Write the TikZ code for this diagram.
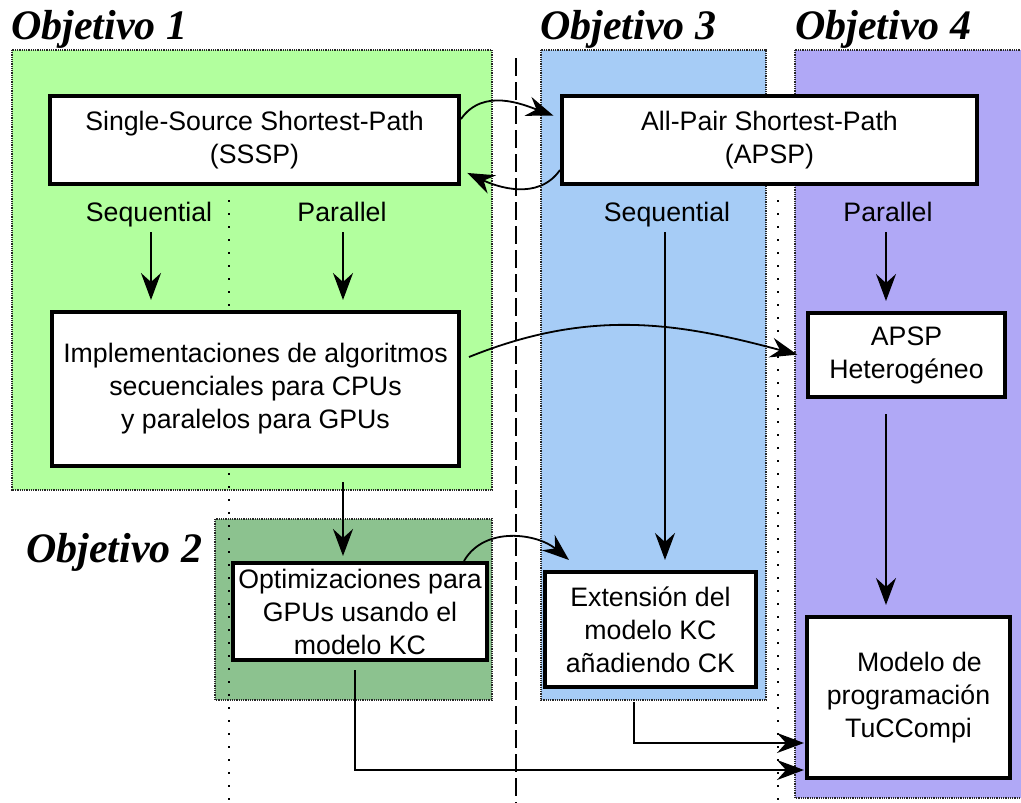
\documentclass[tikz,border=0pt]{standalone}
\usepackage{fontspec}
\setsansfont{Liberation Sans}
\newfontfamily\titlefont{Liberation Serif}
\usetikzlibrary{arrows.meta,calc}

\definecolor{objA}{RGB}{178,255,158}
\definecolor{objB}{RGB}{140,194,143}
\definecolor{objC}{RGB}{166,204,246}
\definecolor{objD}{RGB}{176,168,246}

\tikzset{
  region/.style={draw=black!85, line width=2pt, dash pattern=on 1pt off 0.8pt},
  stepbox/.style={draw=black, fill=white, line width=4pt, align=center,
    font=\sffamily\fontsize{26.7}{33}\selectfont, inner sep=2pt},
  lbl/.style={font=\sffamily\fontsize{26.7}{33}\selectfont, text height=19pt,
    text depth=5pt, inner sep=3pt},
  objtitle/.style={font=\titlefont\bfseries\itshape\fontsize{42}{44}\selectfont,
    anchor=base west, inner sep=0pt},
  arr/.style={-{Stealth[length=27pt,width=20pt,inset=9pt]}, line width=1.8pt},
  sep/.style={line width=1.8pt, dash pattern=on 2pt off 11pt},
  mainsep/.style={line width=2.4pt, dash pattern=on 18pt off 6pt},
}

\begin{document}
\begin{tikzpicture}[x=1pt, y=-1pt]
\useasboundingbox (0,0) rectangle (1021,803);
\clip (0,0) rectangle (1021,803);

% coloured areas of the four objectives
\fill[objA] (12,50) rectangle (492,490);
\draw[region] (12,50) rectangle (492,490);
\fill[objC] (541,50) rectangle (766,700);
\draw[region] (541,50) rectangle (766,700);
\fill[objD] (795,50) rectangle (1030,798);
\draw[region] (795,50) rectangle (1030,798);
\fill[objB] (215,519) rectangle (492,700);
\draw[region] (215,519) rectangle (492,700);

% objective titles
\node[objtitle] (t1) at (11,39) {Objetivo 1};
\node[objtitle] (t2) at (26,562) {Objetivo 2};
\node[objtitle] (t3) at (540,39) {Objetivo 3};
\node[objtitle] (t4) at (795,39) {Objetivo 4};

% separators
\coordinate (sepA1) at (229,200);
\coordinate (sepA2) at (229,803);
\coordinate (sepB1) at (516,58);
\coordinate (sepB2) at (516,803);
\coordinate (sepC1) at (778,200);
\coordinate (sepC2) at (778,803);
\draw[sep] (sepA1) -- (sepA2);
\draw[sep] (sepC1) -- (sepC2);
\draw[mainsep] (sepB1) -- (sepB2);

% boxes
\node[stepbox, minimum width=409pt, minimum height=88pt] (sssp) at (254.5,140)
  {Single-Source Shortest-Path\\(SSSP)};
\node[stepbox, minimum width=415pt, minimum height=88pt] (apsp) at (769.5,140)
  {All-Pair Shortest-Path\\(APSP)};
\node[stepbox, minimum width=407pt, minimum height=154pt] (impl) at (255.5,389)
  {Implementaciones de algoritmos\\secuenciales para CPUs\\y paralelos para GPUs};
\node[stepbox, minimum width=197pt, minimum height=84pt] (het) at (906.5,355)
  {APSP\\Heterogéneo};
\node[stepbox, minimum width=254pt, minimum height=97pt, inner sep=0pt] (opt) at (360,611.5)
  {Optimizaciones para\\GPUs usando el\\modelo KC};
\node[stepbox, minimum width=211pt, minimum height=115pt] (ext) at (650.5,629.5)
  {Extensión del\\modelo KC\\añadiendo CK};
\node[stepbox, minimum width=203pt, minimum height=161pt] (mod) at (908.5,697.5)
  {\hspace*{22pt}Modelo de\\programación\\TuCCompi};

% column labels
\node[lbl] (seqA) at (149,214) {Sequential};
\node[lbl] (parA) at (342,214) {Parallel};
\node[lbl] (seqC) at (667,214) {Sequential};
\node[lbl] (parD) at (888,214) {Parallel};

% vertical flows
\draw[arr, shorten <=3pt, shorten >=10pt] ([xshift=2pt]seqA.south) -- ([xshift=2pt]seqA.south |- impl.north);
\draw[arr, shorten <=3pt, shorten >=10pt] ([xshift=1pt]parA.south) -- ([xshift=1pt]parA.south |- impl.north);
\draw[arr, shorten <=3pt, shorten >=10pt] ([xshift=-2pt]seqC.south) -- ([xshift=-2pt]seqC.south |- ext.north);
\draw[arr, shorten <=3pt, shorten >=10pt] ([xshift=-2pt]parD.south) -- ([xshift=-2pt]parD.south |- het.north);
\draw[arr, shorten <=14pt, shorten >=5pt] (impl.south -| parA.south) ++(1,0) coordinate (implout) -- (implout |- opt.north);
\draw[arr, shorten <=15pt, shorten >=10pt] ([xshift=-2pt]het.south -| parD.south) -- ([xshift=-2pt]mod.north -| parD.south);

% curved links
\draw[arr, shorten >=7pt] ([yshift=21pt]sssp.east) to[out=55, in=160] ([yshift=22pt]apsp.west);
\draw[arr, shorten >=7pt] ([yshift=-30pt]apsp.west) to[out=-125, in=-25] ([yshift=-30pt]sssp.east);
\draw[arr, shorten >=9pt] ([xshift=8pt,yshift=32pt]impl.east) to[out=22, in=165] ([yshift=-2pt]het.west);
\draw[arr] ([xshift=-25pt]opt.north east) to[out=60, in=140] ([xshift=26pt,yshift=10pt]ext.north west);

% links into the programming model
\draw[arr, shorten <=13pt, shorten >=1pt] ([xshift=-16.5pt]ext.south) |- ([yshift=-45.5pt]mod.west);
\draw[arr, shorten <=8pt, shorten >=1pt] ([xshift=-5pt]opt.south) |- ([yshift=-72.5pt]mod.west);
\end{tikzpicture}
\end{document}
